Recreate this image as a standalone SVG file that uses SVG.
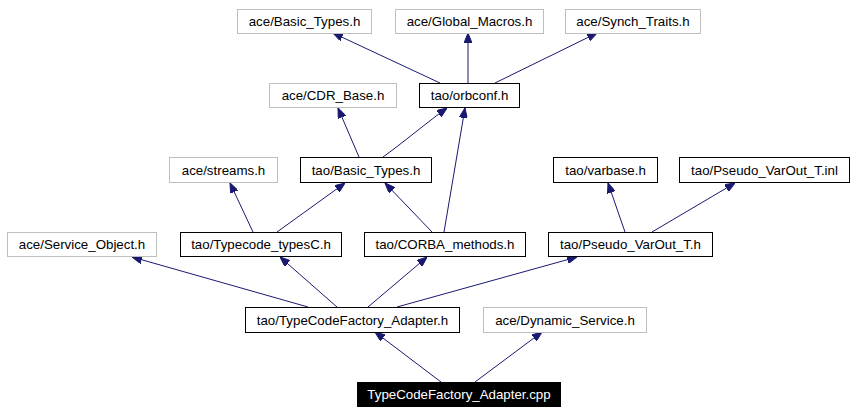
<svg xmlns="http://www.w3.org/2000/svg" width="853" height="413" viewBox="0 0 853 413">
<style>
.n rect{fill:#fff;stroke:#000;stroke-width:1}
.g rect{stroke:#bfbfbf}
.n text{font-family:"Liberation Sans",Arial,sans-serif;font-size:13.3px;text-anchor:middle;fill:#000}
#n_cpp rect{fill:#000}
#n_cpp text{fill:#fff}
#edges path{fill:none;stroke:#191970;stroke-width:1;marker-end:url(#ah)}
</style>
<defs>
<marker id="ah" viewBox="0 0 10 8" refX="10" refY="4" markerWidth="10" markerHeight="8" markerUnits="userSpaceOnUse" orient="auto">
<path d="M0,0 L10,4 L0,8 Z" fill="#191970" stroke="#191970"/>
</marker>
</defs>
<rect width="853" height="413" fill="#fff"/>
<g id="edges">
<path d="M440,83 L333,33"/>
<path d="M468,83 L468,33"/>
<path d="M495,83 L597,33"/>
<path d="M359,157 L338,108"/>
<path d="M383,157 C400,145 430,120 447,108"/>
<path d="M444,232 L465,108"/>
<path d="M253,232 L230,183"/>
<path d="M277,232 L345,183"/>
<path d="M432,232 L385,183"/>
<path d="M625,232 L608,183"/>
<path d="M652,232 L735,183"/>
<path d="M308,307 L132,257"/>
<path d="M337,307 L280,257"/>
<path d="M368,307 L427,257"/>
<path d="M397,307 L577,257"/>
<path d="M441,382 L375,332"/>
<path d="M475,382 L542,332"/>
</g>
<g id="n_ace_basic" class="n g"><rect x="237.5" y="9.5" width="134" height="24"/><text x="304.5" y="26">ace/Basic_Types.h</text></g>
<g id="n_ace_global" class="n g"><rect x="395.5" y="9.5" width="148" height="24"/><text x="469.5" y="26">ace/Global_Macros.h</text></g>
<g id="n_ace_synch" class="n g"><rect x="565.5" y="9.5" width="135" height="24"/><text x="633" y="26">ace/Synch_Traits.h</text></g>
<g id="n_ace_cdr" class="n g"><rect x="269.5" y="83.5" width="127" height="24"/><text x="333" y="100">ace/CDR_Base.h</text></g>
<g id="n_tao_orbconf" class="n"><rect x="419.5" y="83.5" width="100" height="24"/><text x="469.5" y="100">tao/orbconf.h</text></g>
<g id="n_ace_streams" class="n g"><rect x="169.5" y="157.5" width="108" height="25"/><text x="223.5" y="174.5">ace/streams.h</text></g>
<g id="n_tao_basic" class="n"><rect x="300.5" y="157.5" width="131" height="25"/><text x="366" y="174.5">tao/Basic_Types.h</text></g>
<g id="n_tao_varbase" class="n"><rect x="553.5" y="157.5" width="104" height="25"/><text x="605.5" y="174.5">tao/varbase.h</text></g>
<g id="n_tao_pvo_inl" class="n"><rect x="679.5" y="157.5" width="170" height="25"/><text x="764.5" y="174.5">tao/Pseudo_VarOut_T.inl</text></g>
<g id="n_ace_svcobj" class="n g"><rect x="7.5" y="232.5" width="149" height="24"/><text x="82" y="249">ace/Service_Object.h</text></g>
<g id="n_tao_tctypes" class="n"><rect x="180.5" y="232.5" width="161" height="24"/><text x="261" y="249">tao/Typecode_typesC.h</text></g>
<g id="n_tao_corba" class="n"><rect x="364.5" y="232.5" width="161" height="24"/><text x="445" y="249">tao/CORBA_methods.h</text></g>
<g id="n_tao_pvo_h" class="n"><rect x="548.5" y="232.5" width="164" height="24"/><text x="630.5" y="249">tao/Pseudo_VarOut_T.h</text></g>
<g id="n_tao_tcfa" class="n"><rect x="245.5" y="307.5" width="214" height="25"/><text x="352.5" y="324.5">tao/TypeCodeFactory_Adapter.h</text></g>
<g id="n_ace_dynsvc" class="n g"><rect x="483.5" y="307.5" width="163" height="25"/><text x="565" y="324.5">ace/Dynamic_Service.h</text></g>
<g id="n_cpp" class="n"><rect x="357.5" y="382.5" width="203" height="24"/><text x="459" y="399">TypeCodeFactory_Adapter.cpp</text></g>
</svg>
